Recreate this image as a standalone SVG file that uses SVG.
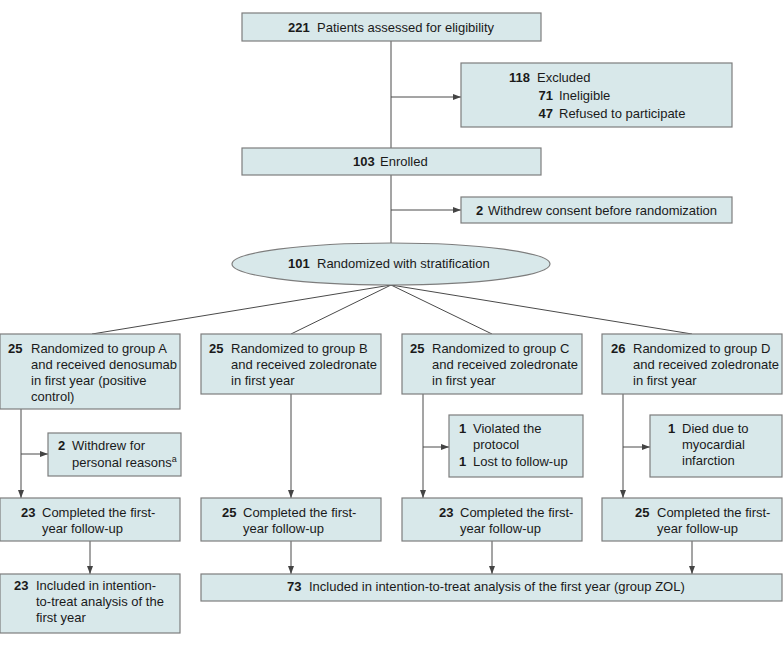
<svg xmlns="http://www.w3.org/2000/svg" width="783" height="647" viewBox="0 0 783 647">
<defs>
<marker id="ah" markerUnits="userSpaceOnUse" markerWidth="9" markerHeight="7" refX="8" refY="3.5" orient="auto">
<path d="M0,0.5 L8,3.5 L0,6.5 z" fill="#444"/>
</marker>
<style>
.box{fill:#d8e8ea;stroke:#7d7d7d;stroke-width:1.2}
text{font-family:"Liberation Sans",Arial,sans-serif;font-size:13px;fill:#1a1a1a}
.b{font-weight:bold}
.c line,.c path{stroke:#4a4a4a;stroke-width:1;fill:none}
.ar{marker-end:url(#ah)}
</style>
</defs>
<rect width="783" height="647" fill="#fff"/>
<g class="c" id="connectors">
<line x1="391" y1="41" x2="391" y2="148"/>
<line class="ar" x1="391" y1="97" x2="461" y2="97"/>
<line x1="391" y1="175" x2="391" y2="243"/>
<line class="ar" x1="391" y1="210" x2="461" y2="210"/>
<line x1="391" y1="285" x2="92" y2="334"/>
<line x1="391" y1="285" x2="291" y2="334"/>
<line x1="391" y1="285" x2="492" y2="334"/>
<line x1="391" y1="285" x2="692" y2="334"/>
<line class="ar" x1="21" y1="409" x2="21" y2="498"/>
<line class="ar" x1="21" y1="454" x2="48" y2="454"/>
<line class="ar" x1="291" y1="394" x2="291" y2="498"/>
<line class="ar" x1="423" y1="394" x2="423" y2="498"/>
<line class="ar" x1="423" y1="447" x2="449" y2="447"/>
<line class="ar" x1="623" y1="394" x2="623" y2="498"/>
<line class="ar" x1="623" y1="447" x2="650" y2="447"/>
<line class="ar" x1="90" y1="541" x2="90" y2="574"/>
<line class="ar" x1="291" y1="541" x2="291" y2="574"/>
<line class="ar" x1="492" y1="541" x2="492" y2="574"/>
<line class="ar" x1="692" y1="541" x2="692" y2="574"/>
</g>
<g id="assessed">
<rect class="box" x="242" y="13" width="299" height="28"/>
<text x="288" y="32"><tspan class="b">221</tspan><tspan x="317">Patients assessed for eligibility</tspan></text>
</g>
<g id="excluded">
<rect class="box" x="461" y="63" width="271" height="64"/>
<text class="b" x="530" y="82" text-anchor="end">118</text>
<text x="537" y="82">Excluded</text>
<text class="b" x="553" y="100" text-anchor="end">71</text>
<text x="559" y="100">Ineligible</text>
<text class="b" x="553" y="118" text-anchor="end">47</text>
<text x="559" y="118">Refused to participate</text>
</g>
<g id="enrolled">
<rect class="box" x="242" y="148" width="299" height="27"/>
<text x="353" y="166"><tspan class="b">103</tspan><tspan x="380">Enrolled</tspan></text>
</g>
<g id="withdrew-consent">
<rect class="box" x="461" y="197" width="271" height="26"/>
<text x="476" y="215"><tspan class="b">2</tspan><tspan x="488">Withdrew consent before randomization</tspan></text>
</g>
<g id="randomized">
<ellipse class="box" cx="391" cy="264" rx="159" ry="21"/>
<text x="288" y="268"><tspan class="b">101</tspan><tspan x="317">Randomized with stratification</tspan></text>
</g>
<g id="groupA">
<rect class="box" x="0" y="334" width="180" height="75"/>
<text class="b" x="8" y="353">25</text>
<text x="31" y="353">Randomized to group A</text>
<text x="31" y="369">and received denosumab</text>
<text x="31" y="385">in first year (positive</text>
<text x="31" y="401">control)</text>
</g>
<g id="groupB">
<rect class="box" x="201" y="334" width="180" height="60"/>
<text class="b" x="209" y="353">25</text>
<text x="231" y="353">Randomized to group B</text>
<text x="231" y="369">and received zoledronate</text>
<text x="231" y="385">in first year</text>
</g>
<g id="groupC">
<rect class="box" x="402" y="334" width="180" height="60"/>
<text class="b" x="410" y="353">25</text>
<text x="432" y="353">Randomized to group C</text>
<text x="432" y="369">and received zoledronate</text>
<text x="432" y="385">in first year</text>
</g>
<g id="groupD">
<rect class="box" x="602" y="334" width="180" height="60"/>
<text class="b" x="611" y="353">26</text>
<text x="633" y="353">Randomized to group D</text>
<text x="633" y="369">and received zoledronate</text>
<text x="633" y="385">in first year</text>
</g>
<g id="withdrewA">
<rect class="box" x="48" y="433" width="133" height="43"/>
<text class="b" x="58" y="450">2</text>
<text x="72" y="450">Withdrew for</text>
<text x="72" y="467">personal reasons<tspan font-size="9" dy="-5">a</tspan></text>
</g>
<g id="lostC">
<rect class="box" x="449" y="415" width="134" height="62"/>
<text class="b" x="459" y="433">1</text>
<text x="473" y="433">Violated the</text>
<text x="473" y="449">protocol</text>
<text class="b" x="459" y="466">1</text>
<text x="473" y="466">Lost to follow-up</text>
</g>
<g id="diedD">
<rect class="box" x="650" y="415" width="132" height="62"/>
<text class="b" x="668" y="433">1</text>
<text x="682" y="433">Died due to</text>
<text x="682" y="449">myocardial</text>
<text x="682" y="465">infarction</text>
</g>
<g id="completedA">
<rect class="box" x="0" y="498" width="180" height="43"/>
<text class="b" x="21" y="517">23</text>
<text x="42" y="517">Completed the first-</text>
<text x="42" y="533">year follow-up</text>
</g>
<g id="completedB">
<rect class="box" x="201" y="498" width="180" height="43"/>
<text class="b" x="222" y="517">25</text>
<text x="243" y="517">Completed the first-</text>
<text x="243" y="533">year follow-up</text>
</g>
<g id="completedC">
<rect class="box" x="402" y="498" width="180" height="43"/>
<text class="b" x="439" y="517">23</text>
<text x="460" y="517">Completed the first-</text>
<text x="460" y="533">year follow-up</text>
</g>
<g id="completedD">
<rect class="box" x="602" y="498" width="180" height="43"/>
<text class="b" x="635" y="517">25</text>
<text x="657" y="517">Completed the first-</text>
<text x="657" y="533">year follow-up</text>
</g>
<g id="ittA">
<rect class="box" x="0" y="574" width="180" height="59"/>
<text class="b" x="14" y="590">23</text>
<text x="36" y="590">Included in intention-</text>
<text x="36" y="606">to-treat analysis of the</text>
<text x="36" y="622">first year</text>
</g>
<g id="ittZOL">
<rect class="box" x="201" y="574" width="581" height="27"/>
<text x="287" y="591"><tspan class="b">73</tspan><tspan x="309">Included in intention-to-treat analysis of the first year (group ZOL)</tspan></text>
</g>
</svg>
